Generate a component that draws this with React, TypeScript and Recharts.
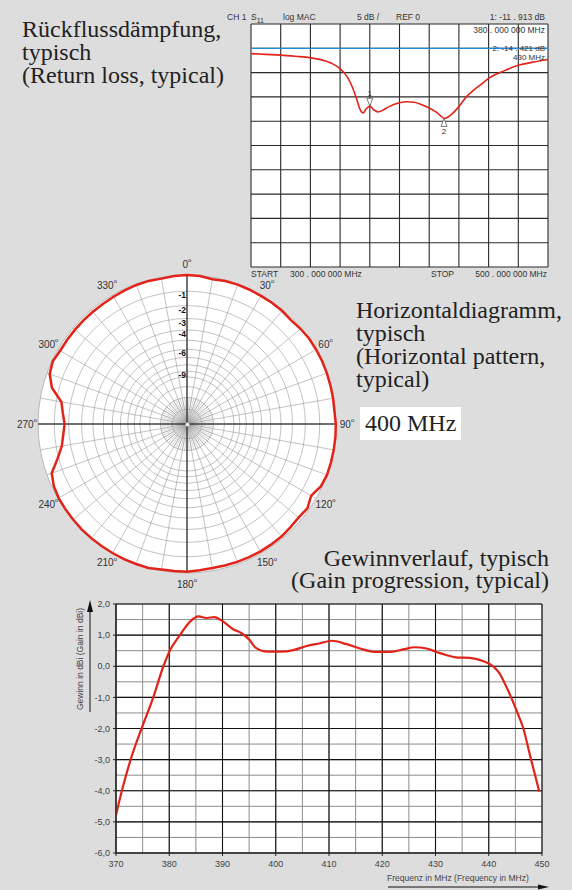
import React from "react";
import {
  CartesianGrid,
  Line,
  LineChart,
  PolarAngleAxis,
  PolarGrid,
  PolarRadiusAxis,
  Radar,
  RadarChart,
  ReferenceDot,
  ReferenceLine,
  XAxis,
  YAxis,
} from "recharts";

// return loss S11, 300..500 MHz (dB)
const rlFreq = [300, 310, 320, 330, 340, 350, 355, 360, 365, 368, 371, 373.5, 375.5, 377.5, 380, 382.5, 385.5, 389, 393, 400, 405, 410, 415, 420, 425, 430.5, 435, 440, 445, 450, 455, 460, 470, 480, 490, 500];
const rlDb = [-1.1, -1.25, -1.4, -1.65, -1.95, -2.6, -3.2, -4.2, -6.0, -7.8, -10.3, -12.6, -13.3, -12.5, -11.9, -12.6, -13.1, -12.7, -12.0, -11.2, -11.0, -11.1, -11.6, -12.3, -13.2, -14.4, -13.6, -12.0, -10.0, -8.6, -7.4, -6.2, -4.7, -3.5, -2.85, -2.3];
const rlXTicks = [300, 320, 340, 360, 380, 400, 420, 440, 460, 480, 500];
const rlYTicks = [5, 0, -5, -10, -15, -20, -25, -30, -35, -40, -45];
const rlMarkerIds = ["1", "2"];
const rlMarkerFreq = [380, 430];
const rlMarkerDb = [-11.913, -14.421];

// horizontal pattern at 400 MHz, dB relative to max, every 5 degrees
const patAngles = [0, 5, 10, 15, 20, 25, 30, 35, 40, 45, 50, 55, 60, 65, 70, 75, 80, 85, 90, 95, 100, 105, 110, 115, 120, 125, 130, 135, 140, 145, 150, 155, 160, 165, 170, 175, 180, 185, 190, 195, 200, 205, 210, 215, 220, 225, 230, 235, 240, 245, 250, 255, 260, 265, 270, 275, 280, 285, 290, 295, 300, 305, 310, 315, 320, 325, 330, 335, 340, 345, 350, 355];
const patDb = [0, -0.03, -0.12, -0.06, -0.04, -0.05, -0.06, -0.06, -0.07, -0.12, -0.05, 0, 0, 0, -0.01, -0.03, -0.04, -0.06, -0.01, 0, 0, 0, 0, -0.08, -0.33, -0.12, -0.2, -0.17, -0.12, -0.12, -0.11, -0.12, -0.13, -0.15, -0.16, -0.13, -0.07, -0.08, -0.08, 0, 0, 0, 0, 0, 0, 0, -0.02, -0.03, -0.05, -0.12, -0.3, -0.92, -1.38, -1.58, -1.71, -1.55, -1.35, -0.55, -0.17, -0.05, -0.15, -0.15, -0.15, -0.15, -0.15, -0.14, -0.12, -0.09, -0.06, -0.05, -0.08, -0.03];
const ringDb = [-1, -2, -3, -4, -5, -6, -7, -8, -9, -10, -12, -15, -20];
const ringLabelDb = [-1, -2, -3, -4, -6, -9];
const spokeDeg = [0, 10, 20, 30, 40, 50, 60, 70, 80, 90, 100, 110, 120, 130, 140, 150, 160, 170, 180, 190, 200, 210, 220, 230, 240, 250, 260, 270, 280, 290, 300, 310, 320, 330, 340, 350];
const axisDeg = [0, 90, 180, 270];
const compassLabels = [0, 30, 60, 90, 120, 150, 180, 210, 240, 270, 300, 330];

// gain, 370..450 MHz (dBi)
const gainFreq = [370, 371.1, 372.75, 374.8, 377, 378.9, 380.1, 382, 384, 385.5, 387, 388.5, 390, 392, 393.6, 395.1, 396.2, 398.5, 401, 403.3, 405.8, 408.3, 410.5, 413.3, 415.8, 418.9, 421.4, 423.9, 426.1, 428.3, 430.2, 432, 434.2, 436.4, 438.9, 440.8, 442, 443, 444.2, 445.4, 446.5, 447.8, 449.5];
const gainDbi = [-4.78, -4.0, -3.0, -2.0, -1.0, 0.0, 0.5, 1.0, 1.45, 1.6, 1.55, 1.58, 1.45, 1.19, 1.06, 0.84, 0.6, 0.47, 0.47, 0.52, 0.65, 0.74, 0.82, 0.71, 0.57, 0.46, 0.46, 0.54, 0.61, 0.57, 0.46, 0.36, 0.28, 0.27, 0.17, 0.0, -0.22, -0.55, -1.0, -1.5, -2.0, -2.9, -4.03];
const gainXTicks = [370, 380, 390, 400, 410, 420, 430, 440, 450];
const gainXMinor = [370, 375, 380, 385, 390, 395, 400, 405, 410, 415, 420, 425, 430, 435, 440, 445, 450];
const gainYTicks = [2, 1, 0, -1, -2, -3, -4, -5, -6];
const gainYMinor = [2, 1.5, 1, 0.5, 0, -0.5, -1, -1.5, -2, -2.5, -3, -3.5, -4, -4.5, -5, -5.5, -6];

const RED = "#e2231a";
const SANS = "'Liberation Sans', Arial, sans-serif";
const SERIF = "'Liberation Serif', 'Times New Roman', serif";
const PC = 170; // polar chart centre inside its svg
const PR = 149;

const rlData = rlFreq.map((f, i) => ({ f, db: rlDb[i] }));
const patData = patAngles.map((angle, i) => ({ angle, rel: Math.pow(10, patDb[i] / 20) }));
const gainData = gainFreq.map((f, i) => ({ f, g: gainDbi[i] }));

const toMath = (deg: number) => 90 - deg;
const ringRadii = ringDb.map((d) => PR * Math.pow(10, d / 20));

function AngleTick(props: any) {
  const { x, y, payload } = props;
  const v = Number(payload?.value);
  if (!compassLabels.includes(v)) return <g />;
  const dx = x - PC;
  const dy = y - PC;
  const d = Math.hypot(dx, dy) || 1;
  const k = (d + 3) / d;
  return (
    <text x={PC + dx * k} y={PC + dy * k} textAnchor="middle" dominantBaseline="central" fontSize={10} fill="#333" fontFamily={SANS}>
      {v}
      <tspan fontSize={6} dy={-4}>o</tspan>
    </text>
  );
}

function RadiusTick(props: any) {
  const { x, y, payload } = props;
  const db = Math.round(20 * Math.log10(payload.value));
  return (
    <text x={x - 1} y={y + 7} textAnchor="end" fontSize={8.5} fontWeight="bold" fill="#111" fontFamily={SANS}>
      {db}
    </text>
  );
}

function MarkerShape(props: any) {
  const { cx, cy, id } = props;
  if (id === "1") {
    return (
      <g>
        <polygon points={`${cx - 3},${cy - 8} ${cx + 3},${cy - 8} ${cx},${cy}`} fill="#fff" stroke="#555" strokeWidth={0.8} />
        <text x={cx} y={cy - 10} textAnchor="middle" fontSize={8} fill="#333" fontFamily={SANS}>1</text>
      </g>
    );
  }
  return (
    <g>
      <polygon points={`${cx - 3},${cy + 8} ${cx + 3},${cy + 8} ${cx},${cy}`} fill="#fff" stroke="#555" strokeWidth={0.8} />
      <text x={cx} y={cy + 16} textAnchor="middle" fontSize={8} fill="#333" fontFamily={SANS}>2</text>
    </g>
  );
}

const fmtComma = (v: number) => v.toFixed(1).replace(".", ",");

function Title({ x, y, lines, anchor = "start", lh = 23 }: { x: number; y: number; lines: string[]; anchor?: "start" | "end"; lh?: number }) {
  return (
    <text x={x} y={y} fontSize={24} fill="#222" fontFamily={SERIF} textAnchor={anchor}>
      {lines.map((l, i) => (
        <tspan key={i} x={x} dy={i === 0 ? 0 : lh}>
          {l}
        </tspan>
      ))}
    </text>
  );
}

export default function App() {
  const small = { fontSize: 8.5, fill: "#333", fontFamily: SANS } as const;
  return (
    <div style={{ position: "absolute", left: 0, top: 0, width: 572, height: 890, background: "#dddddd", overflow: "hidden", fontFamily: SANS }}>
      {/* return loss */}
      <div style={{ position: "absolute", left: 0, top: 0 }}>
        <LineChart width={572} height={290} data={rlData} margin={{ top: 24, right: 24, bottom: 23, left: 251 }}>
          <CartesianGrid fill="#fff" stroke="#2a2a2a" strokeWidth={1.1} />
          <XAxis type="number" dataKey="f" domain={[300, 500]} ticks={rlXTicks} interval={0} hide />
          <YAxis type="number" domain={[-45, 5]} ticks={rlYTicks} interval={0} hide />
          <ReferenceLine y={0} stroke="#1f8ad6" strokeWidth={1.3} />
          <Line type="monotone" dataKey="db" stroke={RED} strokeWidth={1.6} dot={false} isAnimationActive={false} />
          {rlMarkerIds.map((id, i) => (
            <ReferenceDot key={id} x={rlMarkerFreq[i]} y={rlMarkerDb[i]} r={0} shape={(p: any) => <MarkerShape {...p} id={id} />} />
          ))}
        </LineChart>
      </div>

      {/* horizontal pattern */}
      <div style={{ position: "absolute", left: 17, top: 254, width: 340, height: 340 }}>
        <div style={{ position: "absolute", left: PC - PR, top: PC - PR, width: PR * 2, height: PR * 2, borderRadius: "50%", background: "#fff" }} />
        <div style={{ position: "absolute", left: 0, top: 0 }}>
          <RadarChart width={340} height={340} cx={PC} cy={PC} outerRadius={27} data={patData} margin={{ top: 0, right: 0, bottom: 0, left: 0 }}>
            <PolarGrid gridType="circle" polarAngles={patAngles.map(toMath)} polarRadius={[]} stroke="#aaa" strokeWidth={0.5} />
            <PolarAngleAxis dataKey="angle" tick={false} axisLine={false} tickLine={false} />
            <PolarRadiusAxis domain={[0, 1]} tick={false} axisLine={false} />
          </RadarChart>
        </div>
        <div style={{ position: "absolute", left: 0, top: 0 }}>
          <RadarChart width={340} height={340} cx={PC} cy={PC} outerRadius={PR} data={patData} margin={{ top: 0, right: 0, bottom: 0, left: 0 }}>
            <PolarGrid gridType="circle" polarAngles={spokeDeg.map(toMath)} polarRadius={ringRadii} stroke="#9a9a9a" strokeWidth={0.6} />
            <PolarGrid gridType="circle" polarAngles={[]} polarRadius={[PR]} stroke="#b8b8b8" strokeWidth={1} />
            <PolarGrid gridType="circle" polarAngles={axisDeg.map(toMath)} polarRadius={[]} stroke="#000" strokeWidth={1} />
            <PolarAngleAxis dataKey="angle" tick={AngleTick} axisLine={false} tickLine={false} />
            <PolarRadiusAxis
              angle={90}
              type="number"
              domain={[0, 1]}
              ticks={ringLabelDb.map((d) => Math.pow(10, d / 20))}
              tick={RadiusTick}
              axisLine={false}
              tickLine={false}
            />
            <Radar dataKey="rel" stroke={RED} strokeWidth={2.5} fill="none" fillOpacity={0} dot={false} isAnimationActive={false} />
          </RadarChart>
        </div>
        <div style={{ position: "absolute", left: PC - 2.5, top: PC - 2.5, width: 5, height: 5, borderRadius: "50%", background: "#fff", border: "0.5px solid #999", boxSizing: "border-box" }} />
      </div>

      {/* gain: minor grid behind */}
      <div style={{ position: "absolute", left: 0, top: 590 }}>
        <LineChart width={572} height={300} data={gainData} margin={{ top: 14, right: 30, bottom: 37, left: 116 }}>
          <XAxis type="number" dataKey="f" domain={[370, 450]} ticks={gainXMinor} interval={0} hide />
          <YAxis type="number" domain={[-6, 2]} ticks={gainYMinor} interval={0} hide />
          <CartesianGrid fill="#fff" stroke="#8c8c8c" strokeWidth={1} />
          <Line type="monotone" dataKey="g" stroke="none" dot={false} isAnimationActive={false} />
        </LineChart>
      </div>
      {/* gain: main grid, axes, curve */}
      <div style={{ position: "absolute", left: 0, top: 590 }}>
        <LineChart width={572} height={300} data={gainData} margin={{ top: 14, right: 30, bottom: 7, left: 56 }}>
          <XAxis
            type="number"
            dataKey="f"
            domain={[370, 450]}
            ticks={gainXTicks}
            interval={0}
            height={30}
            tickSize={3}
            tickMargin={5}
            tick={{ fontSize: 9, fill: "#444" }}
            axisLine={{ stroke: "#222" }}
            tickLine={{ stroke: "#222" }}
          />
          <YAxis
            type="number"
            domain={[-6, 2]}
            ticks={gainYTicks}
            interval={0}
            width={60}
            tickSize={3}
            tickMargin={3}
            tickFormatter={fmtComma}
            tick={{ fontSize: 9, fill: "#444" }}
            axisLine={{ stroke: "#222" }}
            tickLine={{ stroke: "#222" }}
          />
          <CartesianGrid stroke="#111" strokeWidth={1.1} />
          <Line type="monotone" dataKey="g" stroke={RED} strokeWidth={2.2} dot={false} isAnimationActive={false} />
        </LineChart>
      </div>

      {/* texts */}
      <svg width={572} height={890} style={{ position: "absolute", left: 0, top: 0, pointerEvents: "none" }}>
        <Title x={22} y={37} lines={["Rückflussdämpfung,", "typisch", "(Return loss, typical)"]} />

        <text {...small} x={227} y={20}>CH 1</text>
        <text {...small} x={251} y={20}>S<tspan fontSize={7} dy={3}>11</tspan></text>
        <text {...small} x={283} y={20}>log  MAC</text>
        <text {...small} x={357} y={20}>5  dB /</text>
        <text {...small} x={396} y={20}>REF  0</text>
        <text {...small} x={545} y={20} textAnchor="end">1: -11 . 913  dB</text>
        <text {...small} x={545} y={33} textAnchor="end">380  .  000  000 MHz</text>
        <text {...small} x={545} y={51} textAnchor="end" fontSize={8}>2: -14 . 421  dB</text>
        <text {...small} x={545} y={60} textAnchor="end" fontSize={8}>430 MHz</text>
        <text {...small} x={251} y={277}>START</text>
        <text {...small} x={290} y={277}>300 . 000 000 MHz</text>
        <text {...small} x={431} y={277}>STOP</text>
        <text {...small} x={547} y={277} textAnchor="end">500 . 000 000 MHz</text>

        <Title x={356} y={318} lines={["Horizontaldiagramm,", "typisch", "(Horizontal pattern,", "typical)"]} />

        <rect x={360} y={407} width={101} height={33} fill="#fff" />
        <text x={365} y={431} fontSize={24} fill="#222" fontFamily={SERIF}>400 MHz</text>

        <Title x={549} y={566} anchor="end" lh={22} lines={["Gewinnverlauf, typisch", "(Gain progression, typical)"]} />

        <text fontSize={8.5} fill="#444" fontFamily={SANS} textAnchor="middle" transform="translate(83,659) rotate(-90)">
          Gewinn in dBi (Gain in dBi)
        </text>
        <line x1={90} y1={712} x2={90} y2={610} stroke="#111" strokeWidth={1} />
        <polygon points="87,612 93,612 90,600" fill="#111" />

        <text fontSize={8.5} fill="#444" fontFamily={SANS} x={387} y={881}>Frequenz in MHz (Frequency in MHz)</text>
        <line x1={388} y1={887} x2={540} y2={887} stroke="#111" strokeWidth={1} />
        <polygon points="538,884.5 538,889.5 549,887" fill="#111" />
      </svg>
    </div>
  );
}
